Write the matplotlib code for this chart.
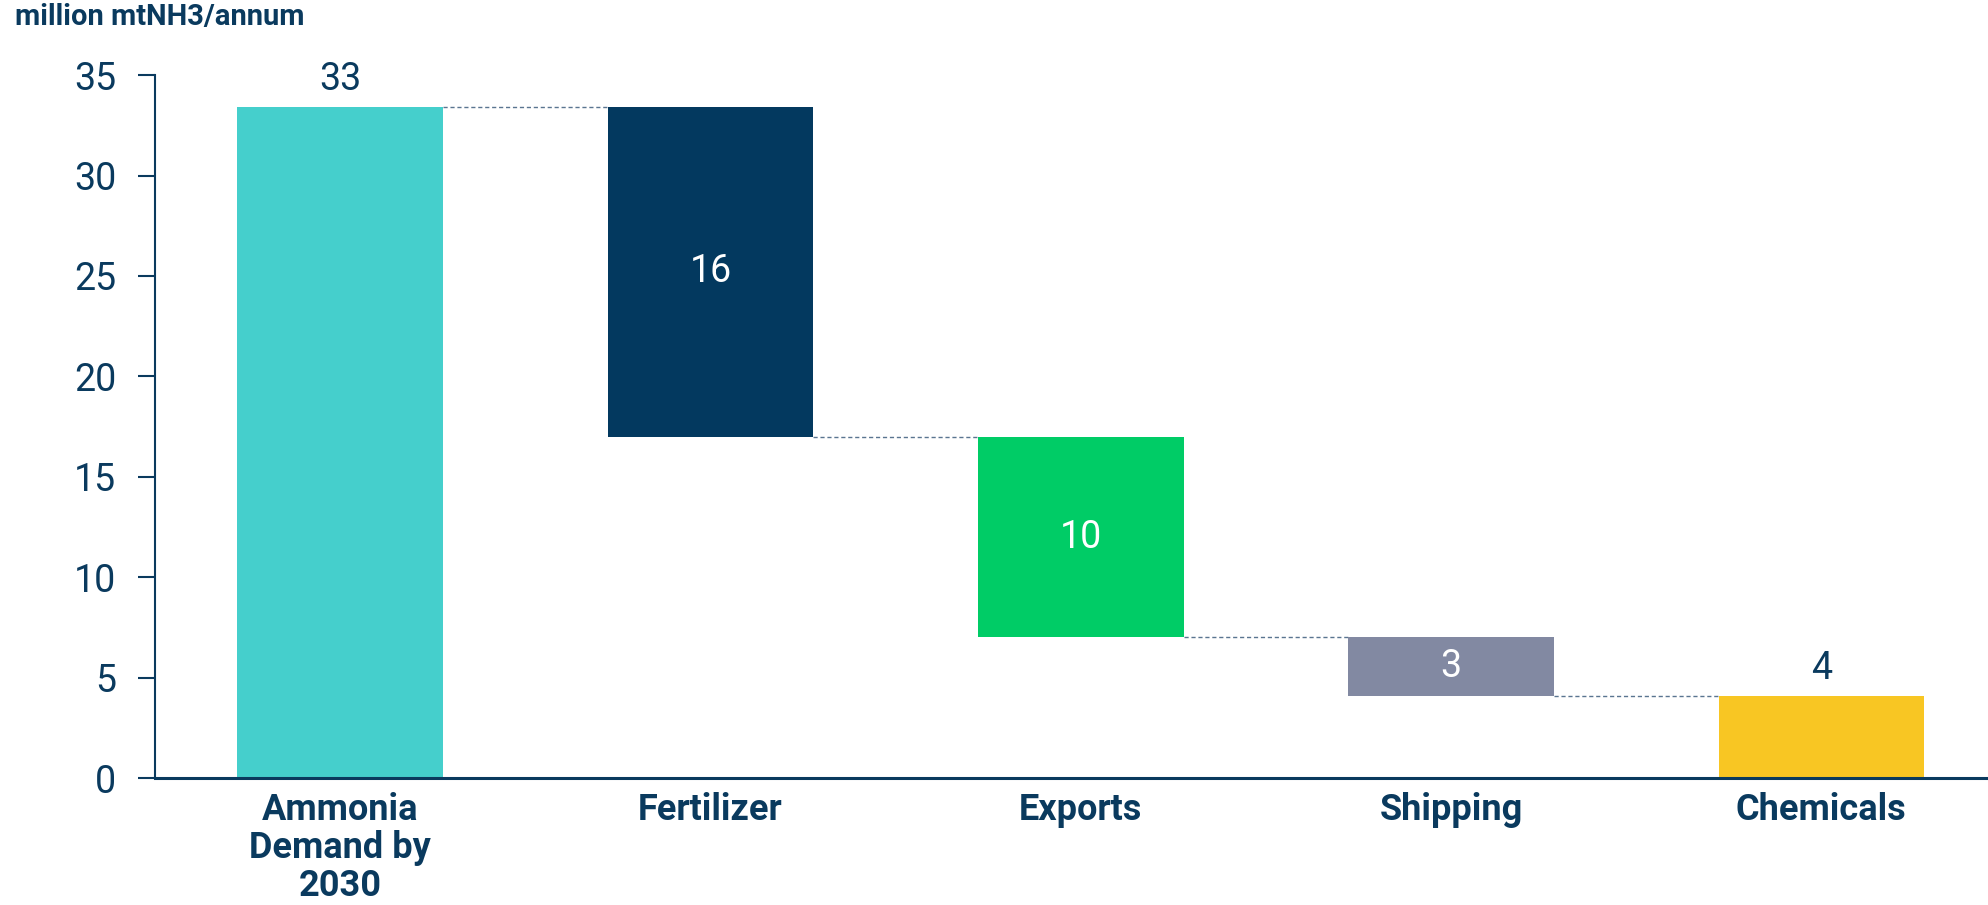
import matplotlib
matplotlib.use("Agg")
import matplotlib.pyplot as plt

plt.rcParams['font.family'] = ['Roboto', 'DejaVu Sans']

NAVY_TEXT = '#0A3A5E'

categories = ['Ammonia\nDemand by\n2030', 'Fertilizer', 'Exports', 'Shipping', 'Chemicals']
# first and last are totals, the middle ones are drawdowns
values = [33.4, 16.4, 10.0, 2.9, 4.1]
kinds = ['total', 'step', 'step', 'step', 'total']
colors = ['#45CFCC', '#03395F', '#00CC66', '#8289A2', '#F8C623']
label_colors = [NAVY_TEXT, 'white', 'white', 'white', NAVY_TEXT]


def main():
    fig = plt.figure(figsize=(19.88, 9.05), dpi=100)
    ax = fig.add_axes([0.078, 0.1403, 0.922, 0.7767])

    width = 0.555
    level = values[0]
    bottoms, tops = [], []
    for i, (v, k) in enumerate(zip(values, kinds)):
        if k == 'total':
            b, t = 0, v
            level = v
        else:
            b, t = level - v, level
            level = level - v
        bottoms.append(b)
        tops.append(t)
        ax.bar(i, t - b, bottom=b, width=width, color=colors[i], zorder=2)

        lbl = f"{v:.0f}"
        if k == 'total':
            ax.text(i, t + 0.45, lbl, ha='center', va='bottom',
                    fontsize=27, color=label_colors[i])
        else:
            ax.text(i, (b + t) / 2, lbl, ha='center', va='center',
                    fontsize=27, color=label_colors[i])

    # dashed connectors between neighbouring bars
    for i in range(len(values) - 1):
        y = bottoms[i] if kinds[i] == 'step' else tops[i]
        ax.plot([i + width / 2, i + 1 - width / 2], [y, y], ls=(0, (3, 2)),
                lw=1.0, color='#5A7590', zorder=1)

    ax.set_xlim(-0.5, 4.45)
    ax.set_ylim(0, 35)
    ax.set_yticks(range(0, 36, 5))
    ax.set_xticks(range(len(categories)))
    ax.set_xticklabels(categories, fontsize=26, fontweight='bold',
                       color=NAVY_TEXT, linespacing=1.08)
    ax.tick_params(axis='x', length=0, pad=10)
    ax.tick_params(axis='y', length=12, width=1.5, color=NAVY_TEXT,
                   labelsize=27, labelcolor=NAVY_TEXT, pad=16)

    for s in ['top', 'right']:
        ax.spines[s].set_visible(False)
    ax.spines['left'].set_color(NAVY_TEXT)
    ax.spines['left'].set_linewidth(1.5)
    ax.spines['bottom'].set_color(NAVY_TEXT)
    ax.spines['bottom'].set_linewidth(2.2)

    fig.text(0.0075, 0.981, 'million mtNH3/annum', fontsize=21,
             fontweight='bold', color=NAVY_TEXT, ha='left', va='center')

    fig.savefig('out.png', dpi=100)
    plt.close(fig)


if __name__ == "__main__":
    main()
